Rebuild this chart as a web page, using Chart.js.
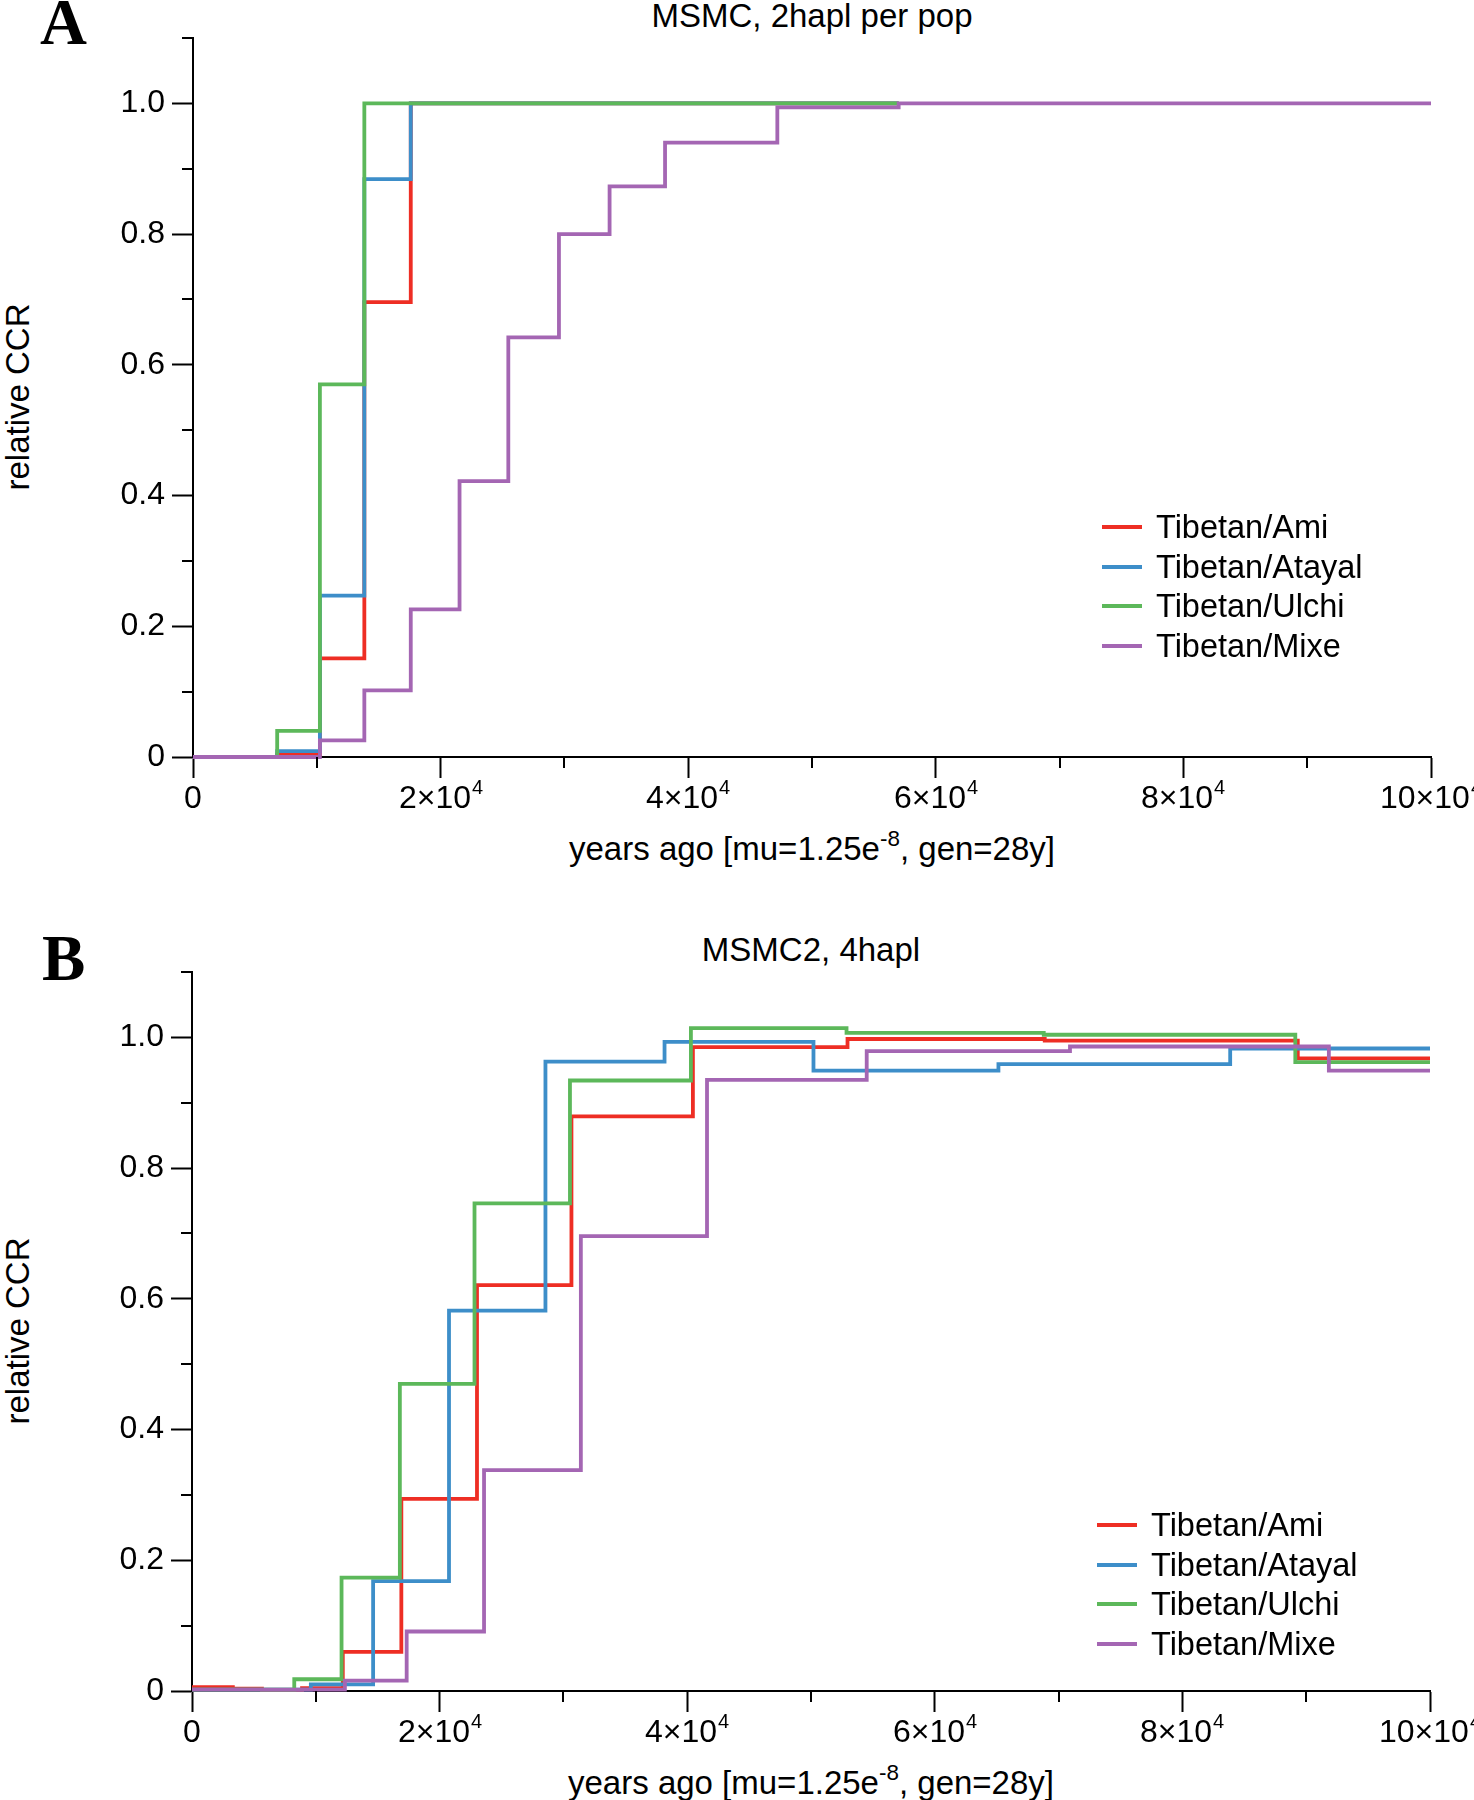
<!DOCTYPE html>
<html>
<head>
<meta charset="utf-8">
<script src="https://cdn.jsdelivr.net/npm/chart.js@4.4.1/dist/chart.umd.min.js"></script>
<style>
  body { margin: 0; background: #fff; width: 1474px; height: 1800px; position: relative; overflow: hidden;
         font-family: 'Liberation Sans', Arial, Helvetica, sans-serif; color: #000; }
  canvas { position: absolute; left: 0; }
  .txt { position: absolute; white-space: nowrap; font-size: 33px; line-height: 1; }
  .letter { position: absolute; font-family: 'Liberation Serif', 'Times New Roman', serif; font-weight: bold; font-size: 65px; line-height: 1; }
  .ctr { transform: translate(-50%, -50%); }
  .ylab { transform: translate(-50%, -50%) rotate(-90deg); }
  sup { font-size: 0.68em; position: relative; top: -0.62em; vertical-align: baseline; line-height: 0; }
  .leg { position: absolute; }
  .leg div { position: absolute; height: 40px; white-space: nowrap; font-size: 32.5px; line-height: 40px; }
  .leg span { display: inline-block; width: 40px; height: 4px; vertical-align: middle; margin-right: 14px; position: relative; top: -2px; }
</style>
</head>
<body>
<div class="letter" style="left:40px; top:-10px;">A</div>
<div class="txt ctr" style="left:812px; top:15px;">MSMC, 2hapl per pop</div>
<div class="txt ylab" style="left:17px; top:397px;">relative CCR</div>
<div class="txt ctr" style="left:812px; top:848px;">years ago [mu=1.25e<sup>-8</sup>, gen=28y]</div>
<canvas id="chartA" width="1474" height="880" style="top:0;"></canvas>
<div class="leg" id="legendA" style="left:1102px; top:507px;"></div>

<div class="letter" style="left:42px; top:926px;">B</div>
<div class="txt ctr" style="left:811px; top:949px;">MSMC2, 4hapl</div>
<div class="txt ylab" style="left:17px; top:1331px;">relative CCR</div>
<div class="txt ctr" style="left:811px; top:1782px;">years ago [mu=1.25e<sup>-8</sup>, gen=28y]</div>
<canvas id="chartB" width="1474" height="870" style="top:930px;"></canvas>
<div class="leg" id="legendB" style="left:1097px; top:1505px;"></div>

<script>
// series names and colours
const pairNames = ['Tibetan/Ami', 'Tibetan/Atayal', 'Tibetan/Ulchi', 'Tibetan/Mixe'];
const pairColors = ['#ee2e24', '#3d8ec9', '#5cb85a', '#a466b3'];

// panel A: MSMC, 2hapl per pop (left edge of each time segment, years)
const aTime = [0, 6800, 10250, 13840, 17590, 21530, 25470, 29560, 33650, 38130, 47200, 57000, 100000];
const aAmi = [0, 0.004, 0.151, 0.696, 1.0, 1.0, 1.0, 1.0, 1.0, 1.0, 1.0, 1.0];
const aAtayal = [0, 0.009, 0.247, 0.884, 1.0, 1.0, 1.0, 1.0, 1.0, 1.0, 1.0, 1.0];
const aUlchi = [0, 0.040, 0.570, 1.0, 1.0, 1.0, 1.0, 1.0, 1.0, 1.0, 1.0, 1.0];
const aMixe = [0, 0, 0.0255, 0.102, 0.226, 0.422, 0.642, 0.800, 0.873, 0.940, 0.994, 1.0, 1.0];

// panel B: MSMC2, 4hapl (each pair has its own time segments)
const bAmiTime = [0, 3300, 5650, 8890, 12180, 16910, 23020, 30650, 40460, 52950, 68880, 89320, 100000];
const bAmi = [0.006, 0.0035, 0.0015, 0.0045, 0.060, 0.294, 0.621, 0.879, 0.985, 0.9975, 0.995, 0.968, 0.968];
const bAtayalTime = [0, 9600, 14630, 20760, 28550, 38170, 50200, 65140, 83860, 100000];
const bAtayal = [0.002, 0.010, 0.168, 0.582, 0.963, 0.993, 0.949, 0.959, 0.983, 0.983];
const bUlchiTime = [0, 8260, 12080, 16790, 22820, 30530, 40300, 52870, 68800, 89120, 100000];
const bUlchi = [0.002, 0.018, 0.1735, 0.470, 0.746, 0.934, 1.014, 1.007, 1.004, 0.962, 0.962];
const bMixeTime = [0, 12350, 17340, 23590, 31410, 41600, 54500, 70920, 91830, 100000];
const bMixe = [0.002, 0.016, 0.091, 0.338, 0.696, 0.935, 0.979, 0.986, 0.949, 0.949];

// axis ticks (x labels are mantissa x 10^exponent)
const xTickBase = ['0', '2×10', '4×10', '6×10', '8×10', '10×10'];
const xTickExp = ['', '4', '4', '4', '4', '4'];
const yTickLabels = ['0', '0.2', '0.4', '0.6', '0.8', '1.0'];

const fontFamily = "'Liberation Sans', Arial, Helvetica, sans-serif";

function isMajorX(v) { return Math.round(v / 10000) % 2 === 0; }
function isMajorY(v) { return Math.round(v * 10) % 2 === 0; }

// short minor ticks and x labels with a real superscript, placed from the scales
const axisExtras = {
    id: 'axisExtras',
    afterDraw(chart) {
        const ctx = chart.ctx, xs = chart.scales.x, ys = chart.scales.y;
        ctx.save();
        ctx.strokeStyle = '#000';
        ctx.fillStyle = '#000';
        ctx.lineWidth = 2;
        xs.ticks.forEach(t => {
            const px = Math.round(xs.getPixelForValue(t.value));
            if (isMajorX(t.value)) {
                const k = Math.round(t.value / 20000);
                ctx.font = '32px ' + fontFamily;
                const wb = ctx.measureText(xTickBase[k]).width;
                ctx.font = '20px ' + fontFamily;
                const we = xTickExp[k] ? ctx.measureText(xTickExp[k]).width + 1 : 0;
                const x0 = px - (wb + we) / 2;
                const base = xs.top + 51;
                ctx.textAlign = 'left';
                ctx.textBaseline = 'alphabetic';
                ctx.font = '32px ' + fontFamily;
                ctx.fillText(xTickBase[k], x0, base);
                if (we) {
                    ctx.font = '20px ' + fontFamily;
                    ctx.fillText(xTickExp[k], x0 + wb + 1, base - 14);
                }
                return;
            }
            ctx.beginPath(); ctx.moveTo(px, xs.top); ctx.lineTo(px, xs.top + 11); ctx.stroke();
        });
        ys.ticks.forEach(t => {
            if (isMajorY(t.value)) return;
            const py = Math.round(ys.getPixelForValue(t.value));
            ctx.beginPath(); ctx.moveTo(ys.right, py); ctx.lineTo(ys.right - 11, py); ctx.stroke();
        });
        ctx.restore();
    }
};

function toPoints(times, values) {
    return values.map((v, i) => ({ x: times[i], y: v }));
}

function createChart(canvasId, series, pad, yWidth) {
    new Chart(document.getElementById(canvasId), {
        type: 'line',
        data: {
            datasets: series.map((s, i) => ({
                label: pairNames[i],
                data: toPoints(s[0], s[1]),
                borderColor: pairColors[i],
                borderWidth: 3.8,
                pointRadius: 0,
                stepped: true,
                fill: false,
                clip: false,
                order: 3 - i
            }))
        },
        options: {
            responsive: false,
            animation: false,
            layout: { padding: pad },
            plugins: { legend: { display: false }, tooltip: { enabled: false } },
            scales: {
                x: {
                    type: 'linear',
                    min: 0, max: 100000,
                    grid: {
                        drawOnChartArea: false, tickLength: 21,
                        tickColor: c => isMajorX(c.tick.value) ? '#000' : 'rgba(0,0,0,0)', tickWidth: 2
                    },
                    border: { color: '#000', width: 2 },
                    ticks: {
                        stepSize: 10000, autoSkip: false, maxRotation: 0, padding: 2,
                        color: 'rgba(0,0,0,0)',
                        font: { family: fontFamily, size: 32 },
                        callback: v => isMajorX(v) ? xTickBase[Math.round(v / 20000)] : ''
                    },
                    afterFit: s => { s.height = 60; s.paddingLeft = 0; s.paddingRight = 0; }
                },
                y: {
                    min: 0, max: 1.1,
                    grid: {
                        drawOnChartArea: false, tickLength: 21,
                        tickColor: c => isMajorY(c.tick.value) ? '#000' : 'rgba(0,0,0,0)', tickWidth: 2
                    },
                    border: { color: '#000', width: 2 },
                    ticks: {
                        stepSize: 0.1, autoSkip: false, padding: 7, color: '#000',
                        font: { family: fontFamily, size: 32 },
                        callback: v => isMajorY(v) ? yTickLabels[Math.round(v * 5)] : ''
                    },
                    afterFit: s => { s.width = yWidth; s.paddingTop = 0; s.paddingBottom = 0; }
                }
            }
        },
        plugins: [axisExtras]
    });
}

function createLegend(divId) {
    const box = document.getElementById(divId);
    pairNames.forEach((name, i) => {
        const row = document.createElement('div');
        row.style.top = (i * 39.5) + 'px';
        row.innerHTML = '<span style="background:' + pairColors[i] + '"></span>' + name;
        box.appendChild(row);
    });
}

createChart('chartA',
    [[aTime, aAmi], [aTime, aAtayal], [aTime, aUlchi], [aTime, aMixe]],
    { top: 38, right: 43, bottom: 63, left: 0 }, 193);

createChart('chartB',
    [[bAmiTime, bAmi], [bAtayalTime, bAtayal], [bUlchiTime, bUlchi], [bMixeTime, bMixe]],
    { top: 42, right: 44, bottom: 49, left: 0 }, 192);

createLegend('legendA');
createLegend('legendB');
</script>
</body>
</html>
